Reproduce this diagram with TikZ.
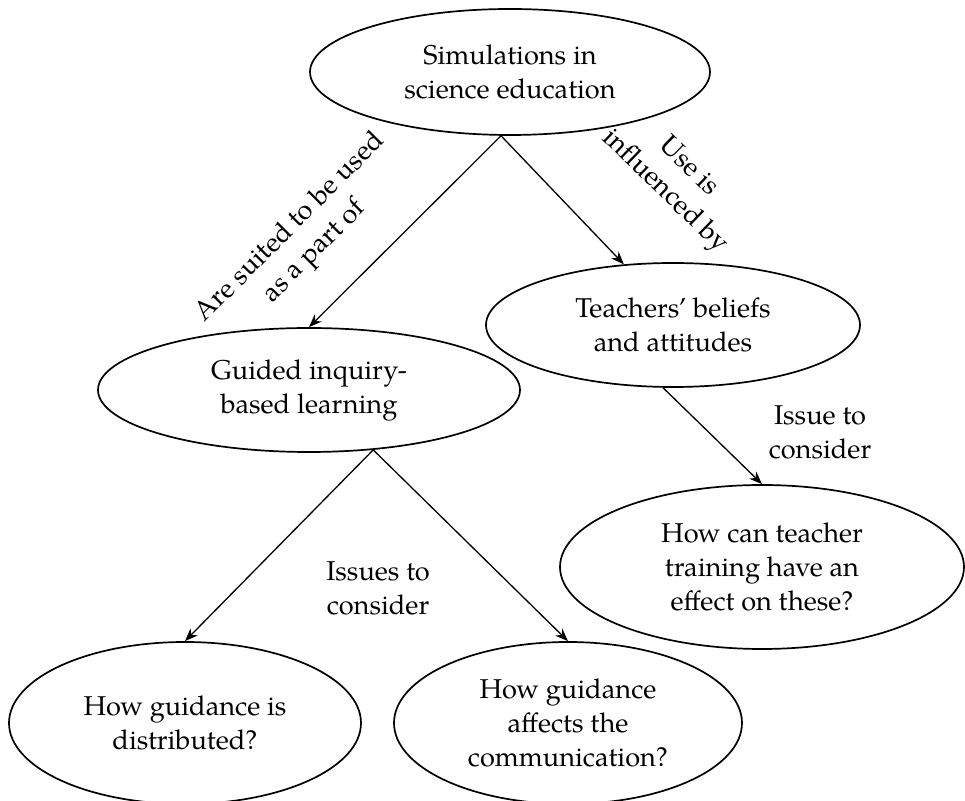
\documentclass[tikz,border=0pt]{standalone}
\usepackage{fontspec}
\setmainfont{texgyrepagella}[Extension=.otf, UprightFont=*-regular, BoldFont=*-bold, ItalicFont=*-italic, BoldItalicFont=*-bolditalic]
\usetikzlibrary{arrows.meta,shapes.geometric}
\tikzset{
  ell/.style={ellipse, draw, line width=0.85pt, inner sep=0pt, align=center,
    font=\fontsize{13.6pt}{17pt}\selectfont},
  lbl/.style={align=center, inner sep=0pt, font=\fontsize{13.6pt}{17pt}\selectfont},
  conn/.style={line width=0.65pt, -{Stealth[length=6.5pt,width=5pt]}}
}
\begin{document}
\begin{tikzpicture}[x=0.5pt,y=-0.5pt]
\useasboundingbox (0,0) rectangle (965,801);
\node[ell, minimum width=200pt, minimum height=63pt] (sim) at (510,72) {Simulations in\\science education};
\node[ell, minimum width=187pt, minimum height=62pt] (tea) at (673,325) {Teachers’ beliefs\\and attitudes};
\node[ell, minimum width=211pt, minimum height=62pt] (gui) at (309,390) {Guided inquiry-\\based learning};
\node[ell, minimum width=202pt, minimum height=82pt] (how) at (762,567) {How can teacher\\training have an\\effect on these?};
\node[ell, minimum width=176pt, minimum height=81pt] (dist) at (185,723) {How guidance is\\distributed?};
\node[ell, minimum width=174pt, minimum height=81pt] (comm) at (568,723) {How guidance\\affects the\\communication?};

\draw[conn] (sim.262) -- (gui.north);
\draw[conn] (sim.262) -- (tea.129);
\draw[conn] (tea.261) -- (how.north);
\draw[conn] (gui.-43) -- (dist.north);
\draw[conn] (gui.-43) -- (comm.north);

\node[lbl, rotate=45] (l1) at (303,240) {Are suited to be used\\as a part of};
\node[lbl, rotate=-44] (l2) at (676,180) {Use is\\influenced by};
\node[lbl] (l3) at (820,432) {Issue to\\consider};
\node[lbl] (l4) at (378,588) {Issues to\\consider};
\end{tikzpicture}
\end{document}
